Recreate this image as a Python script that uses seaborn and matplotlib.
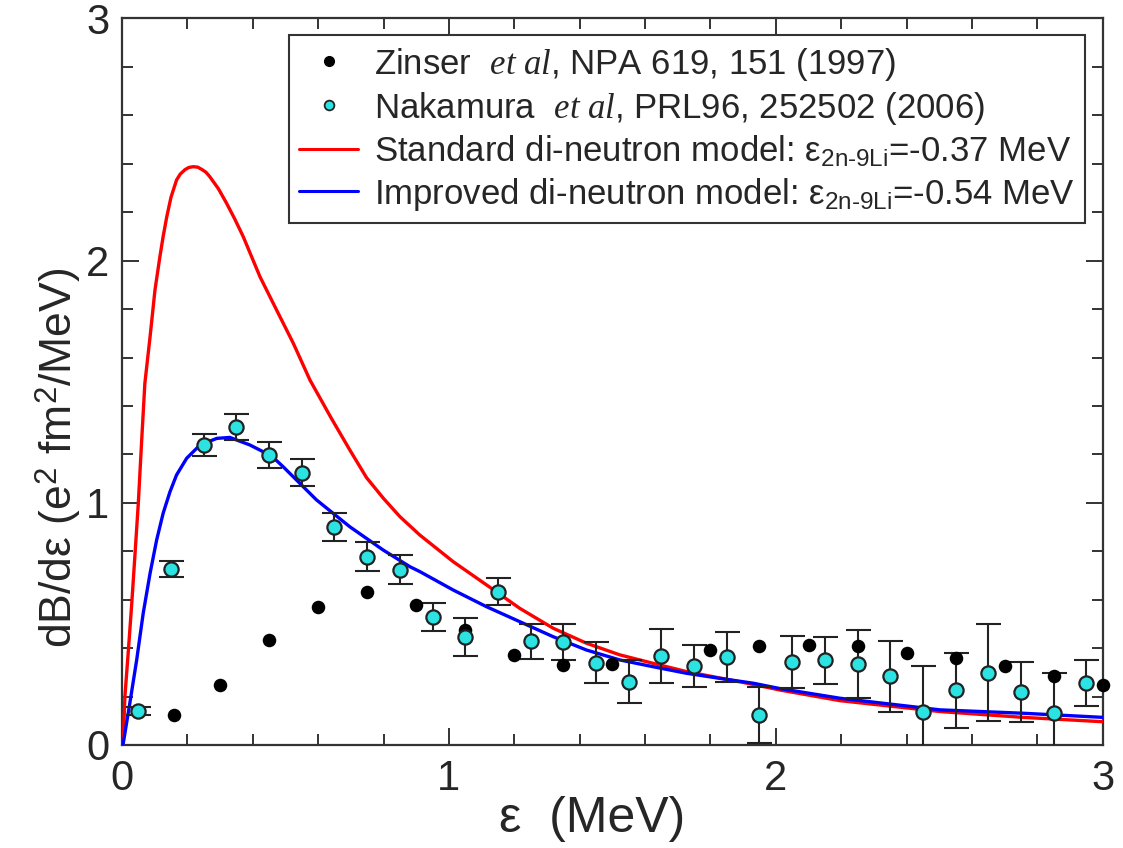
import numpy as np
import pandas as pd
import matplotlib
matplotlib.use("Agg")
import matplotlib.pyplot as plt
from matplotlib.lines import Line2D
from matplotlib.ticker import MultipleLocator
import seaborn as sns

# ---------------- data ----------------
# Nakamura et al (cyan points with error bars)
nak_x = [0.05, 0.15, 0.25, 0.35, 0.45, 0.55, 0.65, 0.75, 0.85, 0.95,
         1.05, 1.15, 1.25, 1.35, 1.45, 1.55, 1.65, 1.75, 1.85, 1.95,
         2.05, 2.15, 2.25, 2.35, 2.45, 2.55, 2.65, 2.75, 2.85, 2.95]
nak_y = [0.140, 0.727, 1.238, 1.313, 1.196, 1.124, 0.900, 0.777, 0.724, 0.528,
         0.446, 0.632, 0.428, 0.425, 0.340, 0.262, 0.368, 0.327, 0.362, 0.124,
         0.342, 0.349, 0.335, 0.283, 0.138, 0.225, 0.299, 0.218, 0.134, 0.255]
nak_err = [0.015, 0.033, 0.045, 0.053, 0.054, 0.055, 0.059, 0.060, 0.060, 0.057,
           0.079, 0.056, 0.072, 0.073, 0.086, 0.088, 0.112, 0.086, 0.103, 0.117,
           0.108, 0.098, 0.139, 0.146, 0.189, 0.153, 0.200, 0.124, 0.162, 0.094]

# Zinser et al (black points)
zin_x = [0.16, 0.30, 0.45, 0.60, 0.75, 0.90, 1.05, 1.20, 1.35, 1.50,
         1.80, 1.95, 2.10, 2.25, 2.40, 2.55, 2.70, 2.85, 3.00]
zin_y = [0.124, 0.248, 0.434, 0.570, 0.632, 0.579, 0.473, 0.370, 0.331, 0.334,
         0.393, 0.407, 0.414, 0.407, 0.379, 0.359, 0.327, 0.283, 0.248]

# Standard di-neutron model (red curve)
std_x = [0.0, 0.004, 0.009, 0.019, 0.030, 0.040, 0.050, 0.060, 0.070, 0.086,
         0.101, 0.116, 0.126, 0.137, 0.150, 0.167, 0.178, 0.193, 0.205, 0.218,
         0.232, 0.245, 0.257, 0.269, 0.295, 0.320, 0.345, 0.371, 0.422, 0.473,
         0.524, 0.575, 0.640, 0.697, 0.748, 0.800, 0.850, 0.911, 1.013, 1.115,
         1.217, 1.319, 1.421, 1.523, 1.625, 1.727, 1.931, 2.012, 2.196, 2.502,
         2.756, 3.0]
std_y = [0.0, 0.02, 0.20, 0.379, 0.585, 0.790, 0.998, 1.250, 1.493, 1.686,
         1.879, 2.016, 2.100, 2.181, 2.262, 2.333, 2.357, 2.376, 2.385, 2.388,
         2.386, 2.376, 2.365, 2.346, 2.297, 2.237, 2.172, 2.099, 1.934, 1.796,
         1.659, 1.507, 1.350, 1.218, 1.104, 1.018, 0.943, 0.867, 0.757, 0.661,
         0.564, 0.482, 0.420, 0.372, 0.337, 0.303, 0.250, 0.227, 0.183, 0.138,
         0.114, 0.096]

# Improved di-neutron model (blue curve)
imp_x = [0.0, 0.004, 0.024, 0.045, 0.065, 0.086, 0.106, 0.126, 0.147, 0.167,
         0.198, 0.239, 0.290, 0.330, 0.391, 0.458, 0.493, 0.595, 0.697, 0.799,
         0.881, 0.911, 1.013, 1.115, 1.217, 1.319, 1.421, 1.523, 1.625, 1.727,
         1.829, 1.931, 2.012, 2.196, 2.502, 2.756, 3.0]
imp_y = [0.0, 0.007, 0.172, 0.351, 0.544, 0.709, 0.846, 0.957, 1.046, 1.115,
         1.184, 1.239, 1.266, 1.270, 1.239, 1.193, 1.149, 1.012, 0.901, 0.805,
         0.736, 0.716, 0.640, 0.571, 0.509, 0.447, 0.392, 0.351, 0.323, 0.296,
         0.275, 0.255, 0.233, 0.193, 0.145, 0.131, 0.114]

labels = [
    r"Zinser  $\mathit{et\ al}$, NPA 619, 151 (1997)",
    r"Nakamura  $\mathit{et\ al}$, PRL96, 252502 (2006)",
    r"Standard di-neutron model: ε$_{\mathrm{2n}\text{-}\mathrm{9Li}}$=-0.37 MeV",
    r"Improved di-neutron model: ε$_{\mathrm{2n}\text{-}\mathrm{9Li}}$=-0.54 MeV",
]

# ---------------- style ----------------
sns.set_style("ticks")
plt.rcParams["font.family"] = ["Liberation Sans", "DejaVu Sans"]
plt.rcParams["mathtext.fontset"] = "custom"
plt.rcParams["mathtext.rm"] = "Liberation Sans"
plt.rcParams["mathtext.sf"] = "Liberation Sans"
plt.rcParams["mathtext.it"] = "Liberation Serif:italic"
plt.rcParams["mathtext.bf"] = "Liberation Sans:bold"

fig = plt.figure(figsize=(11.23, 8.48), dpi=100)
ax = fig.add_axes([0.1086, 0.1215, 0.8734, 0.8567])

CYAN = "#2ce3e3"
EDGE = "#222222"

# curves
std_df = pd.DataFrame({"x": std_x, "y": std_y})
imp_df = pd.DataFrame({"x": imp_x, "y": imp_y})
sns.lineplot(data=std_df, x="x", y="y", ax=ax, color="#ff0000", lw=2.4,
             estimator=None, sort=False, zorder=3)
sns.lineplot(data=imp_df, x="x", y="y", ax=ax, color="#0000ff", lw=2.4,
             estimator=None, sort=False, zorder=3)

# error bars for Nakamura
ax.errorbar(nak_x, nak_y, yerr=nak_err, fmt="none", ecolor=EDGE,
            elinewidth=1.5, capsize=9, capthick=1.5, zorder=4)

# points
zin_df = pd.DataFrame({"x": zin_x, "y": zin_y})
nak_df = pd.DataFrame({"x": nak_x, "y": nak_y})
sns.scatterplot(data=zin_df, x="x", y="y", ax=ax, color="black", s=95,
                marker="o", linewidth=0, zorder=5, clip_on=False)
sns.scatterplot(data=nak_df, x="x", y="y", ax=ax, color=CYAN, s=105,
                marker="o", edgecolor=EDGE, linewidth=1.6, zorder=6)

# axes
ax.set_xlim(0, 3)
ax.set_ylim(0, 3)
ax.xaxis.set_major_locator(MultipleLocator(1))
ax.yaxis.set_major_locator(MultipleLocator(1))
ax.xaxis.set_minor_locator(MultipleLocator(0.2))
ax.yaxis.set_minor_locator(MultipleLocator(0.2))
ax.tick_params(which="both", direction="in", top=True, right=True,
               color="#333333", width=1.4)
ax.tick_params(which="major", length=12, labelsize=30)
ax.tick_params(which="minor", length=8)
ax.tick_params(axis="x", which="major", pad=10)
ax.tick_params(axis="y", which="major", pad=9)
for sp in ax.spines.values():
    sp.set_visible(True)
    sp.set_linewidth(1.6)
    sp.set_color("#333333")

ax.set_xlabel("ε  (MeV)", fontsize=36)
ax.set_ylabel("dB/dε (e$^2$ fm$^2$/MeV)", fontsize=32)
ax.xaxis.set_label_coords(0.479, -0.070)
ax.yaxis.set_label_coords(-0.040, 0.395)

# legend
handles = [
    Line2D([], [], ls="none", marker="o", color="black", markersize=7),
    Line2D([], [], ls="none", marker="o", markerfacecolor=CYAN,
           markeredgecolor=EDGE, markeredgewidth=1.3, markersize=7),
    Line2D([], [], color="#ff0000", lw=2.2),
    Line2D([], [], color="#0000ff", lw=2.2),
]
leg = ax.legend(handles, labels, loc="upper right",
                bbox_to_anchor=(0.982, 0.977), borderaxespad=0,
                fontsize=25, frameon=True, fancybox=False, framealpha=1,
                handlelength=1.7, handletextpad=0.45, labelspacing=0.2,
                borderpad=0.3)
leg.get_frame().set_edgecolor("#333333")
leg.get_frame().set_linewidth(1.5)

fig.savefig("out.png", dpi=100)
